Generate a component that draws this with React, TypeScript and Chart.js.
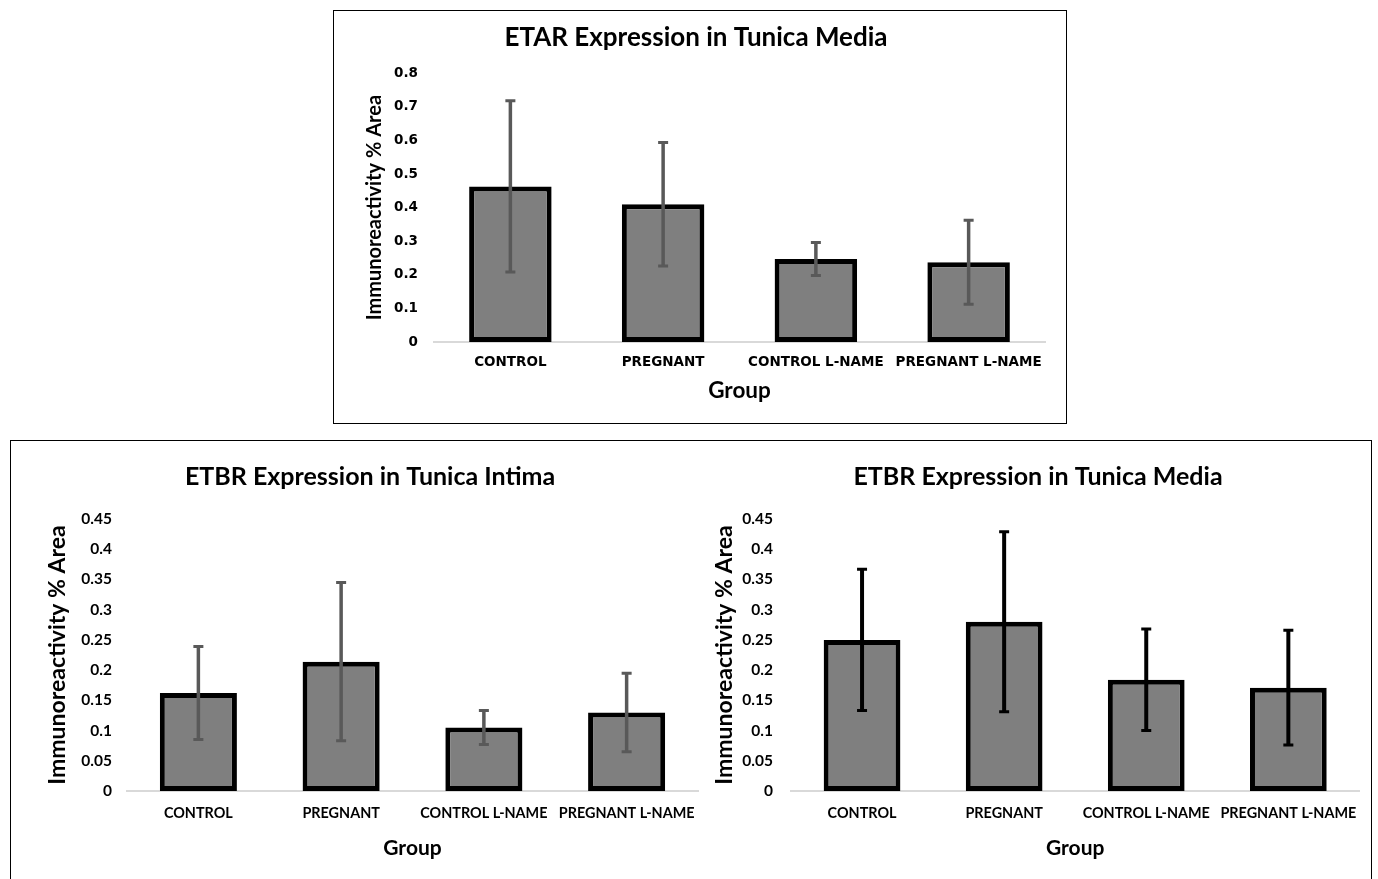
import React, { useEffect, useRef } from "react";
import { Chart, registerables } from "chart.js";

Chart.register(...registerables);

const categories = ["CONTROL", "PREGNANT", "CONTROL L-NAME", "PREGNANT L-NAME"];

const etarMediaMeans = [0.463, 0.41, 0.247, 0.237];
const etarMediaErrors = [0.255, 0.184, 0.049, 0.125];

const etbrIntimaMeans = [0.162, 0.214, 0.105, 0.13];
const etbrIntimaErrors = [0.077, 0.131, 0.028, 0.065];

const etbrMediaMeans = [0.25, 0.28, 0.184, 0.171];
const etbrMediaErrors = [0.117, 0.149, 0.084, 0.095];

const FONT = "Lato, 'Open Sans', sans-serif";
const WIDE = "'DejaVu Sans', Verdana, sans-serif";

const errorBarPlugin = {
  id: "errorBars",
  afterDatasetsDraw(chart: any, _args: any, opts: any) {
    const { ctx } = chart;
    const meta = chart.getDatasetMeta(0);
    const ds = chart.data.datasets[0];
    const errs: number[] = ds.errors || [];
    const yScale = chart.scales.y;
    ctx.save();
    ctx.strokeStyle = opts.color || "#595959";
    const cap = opts.cap || 4;
    meta.data.forEach((bar: any, i: number) => {
      const v = ds.data[i];
      const e = errs[i];
      const x = bar.x;
      const yTop = yScale.getPixelForValue(v + e);
      const yBot = yScale.getPixelForValue(v - e);
      ctx.lineWidth = opts.width || 3;
      ctx.beginPath();
      ctx.moveTo(x, yTop);
      ctx.lineTo(x, yBot);
      ctx.stroke();
      ctx.lineWidth = opts.capWidth || 3;
      ctx.beginPath();
      ctx.moveTo(x - cap, yTop);
      ctx.lineTo(x + cap, yTop);
      ctx.moveTo(x - cap, yBot);
      ctx.lineTo(x + cap, yBot);
      ctx.stroke();
    });
    ctx.restore();
  },
};

type Spec = {
  title: string;
  means: number[];
  errors: number[];
  max: number;
  step: number;
  width: number;
  height: number;
  titleSize: number;
  titlePadTop: number;
  titlePadBottom: number;
  yWidth: number;
  tickFont: string;
  tickSize: number;
  tickPad: number;
  yTitleSize: number;
  yTitlePad: number;
  xHeight: number;
  catFont: string;
  catSize: number;
  catPad: number;
  xTitleSize: number;
  xTitlePadBottom: number;
  padLeft: number;
  padRight: number;
  errColor: string;
  errWidth: number;
  barPct: number;
  borderW: number;
};

function BarChart({ spec, left, top }: { spec: Spec; left: number; top: number }) {
  const ref = useRef<HTMLCanvasElement | null>(null);
  useEffect(() => {
    if (!ref.current) return;
    const s = spec;
    const chart = new Chart(ref.current, {
      type: "bar",
      data: {
        labels: categories,
        datasets: [
          {
            data: s.means,
            errors: s.errors,
            backgroundColor: "#7f7f7f",
            borderColor: "#000000",
            borderWidth: s.borderW,
            borderSkipped: false,
            categoryPercentage: 1,
            barPercentage: s.barPct,
          } as any,
        ],
      },
      options: {
        animation: false,
        responsive: false,
        devicePixelRatio: 1,
        layout: { padding: { left: s.padLeft, right: s.padRight, top: 0, bottom: 0 } },
        plugins: {
          legend: { display: false },
          tooltip: { enabled: false },
          title: {
            display: true,
            text: s.title,
            color: "#000",
            font: { family: FONT, size: s.titleSize, weight: "bold" },
            padding: { top: s.titlePadTop, bottom: s.titlePadBottom },
          },
          errorBars: { color: s.errColor, width: s.errWidth, capWidth: 3, cap: 5 },
        } as any,
        scales: {
          x: {
            grid: { display: false, drawTicks: false },
            border: { display: true, color: "#d9d9d9", width: 2 },
            ticks: {
              color: "#000",
              padding: s.catPad,
              maxRotation: 0,
              autoSkip: false,
              font: { family: s.catFont, size: s.catSize, weight: "bold" },
            },
            title: {
              display: true,
              text: "Group",
              color: "#000",
              font: { family: FONT, size: s.xTitleSize, weight: "bold" },
              padding: { top: 0, bottom: s.xTitlePadBottom },
            },
            afterFit: (sc: any) => {
              sc.height = s.xHeight;
            },
          },
          y: {
            min: 0,
            max: s.max,
            grid: { display: false, drawTicks: false },
            border: { display: false },
            ticks: {
              stepSize: s.step,
              color: "#000",
              padding: s.tickPad,
              font: { family: s.tickFont, size: s.tickSize, weight: "bold" },
              callback: (v: any) => String(Number(Number(v).toFixed(2))),
            },
            title: {
              display: true,
              text: "Immunoreactivity % Area",
              color: "#000",
              font: { family: FONT, size: s.yTitleSize, weight: "bold" },
              padding: { top: s.yTitlePad, bottom: 0 },
            },
            afterFit: (sc: any) => {
              sc.width = s.yWidth;
            },
          },
        },
      },
      plugins: [errorBarPlugin],
    });
    return () => chart.destroy();
  }, [spec]);
  return (
    <canvas
      ref={ref}
      width={spec.width}
      height={spec.height}
      style={{ position: "absolute", left, top, width: spec.width, height: spec.height, display: "block" }}
    />
  );
}

const topSpec: Spec = {
  title: "ETAR Expression in Tunica Media",
  means: etarMediaMeans,
  errors: etarMediaErrors,
  max: 0.8,
  step: 0.1,
  width: 732,
  height: 412,
  titleSize: 26,
  titlePadTop: 11,
  titlePadBottom: 20,
  yWidth: 87,
  tickFont: WIDE,
  tickSize: 13.5,
  tickPad: 16,
  yTitleSize: 20,
  yTitlePad: 16,
  xHeight: 81,
  catFont: WIDE,
  catSize: 13.5,
  catPad: 12,
  xTitleSize: 22.5,
  xTitlePadBottom: 19,
  padLeft: 13,
  padRight: 21,
  errColor: "#595959",
  errWidth: 3.5,
  barPct: 0.54,
  borderW: 5,
};

const leftSpec: Spec = {
  title: "ETBR Expression in Tunica Intima",
  means: etbrIntimaMeans,
  errors: etbrIntimaErrors,
  max: 0.45,
  step: 0.05,
  width: 700,
  height: 437,
  titleSize: 25,
  titlePadTop: 21,
  titlePadBottom: 27,
  yWidth: 85,
  tickFont: FONT,
  tickSize: 15.5,
  tickPad: 15,
  yTitleSize: 23,
  yTitlePad: 2,
  xHeight: 87,
  catFont: FONT,
  catSize: 14.4,
  catPad: 14,
  xTitleSize: 21,
  xTitlePadBottom: 17,
  padLeft: 31,
  padRight: 13,
  errColor: "#595959",
  errWidth: 3.5,
  barPct: 0.54,
  borderW: 5,
};

const rightSpec: Spec = {
  ...leftSpec,
  title: "ETBR Expression in Tunica Media",
  means: etbrMediaMeans,
  errors: etbrMediaErrors,
  width: 660,
  yWidth: 80,
  tickPad: 18,
  yTitlePad: 0,
  padLeft: 0,
  padRight: 6,
  errColor: "#000000",
  errWidth: 4,
};

export default function App() {
  return (
    <div
      style={{
        position: "fixed",
        left: 0,
        top: 0,
        width: 1378,
        height: 879,
        background: "#fff",
        overflow: "hidden",
        fontFamily: FONT,
      }}
    >
      <div
        style={{
          position: "absolute",
          left: 333,
          top: 10,
          width: 734,
          height: 414,
          boxSizing: "border-box",
          border: "1px solid #000",
        }}
      />
      <div
        style={{
          position: "absolute",
          left: 10,
          top: 440,
          width: 1362,
          height: 460,
          boxSizing: "border-box",
          border: "1.5px solid #000",
        }}
      />
      <BarChart spec={topSpec} left={334} top={11} />
      <BarChart spec={leftSpec} left={11} top={441} />
      <BarChart spec={rightSpec} left={711} top={441} />
    </div>
  );
}
